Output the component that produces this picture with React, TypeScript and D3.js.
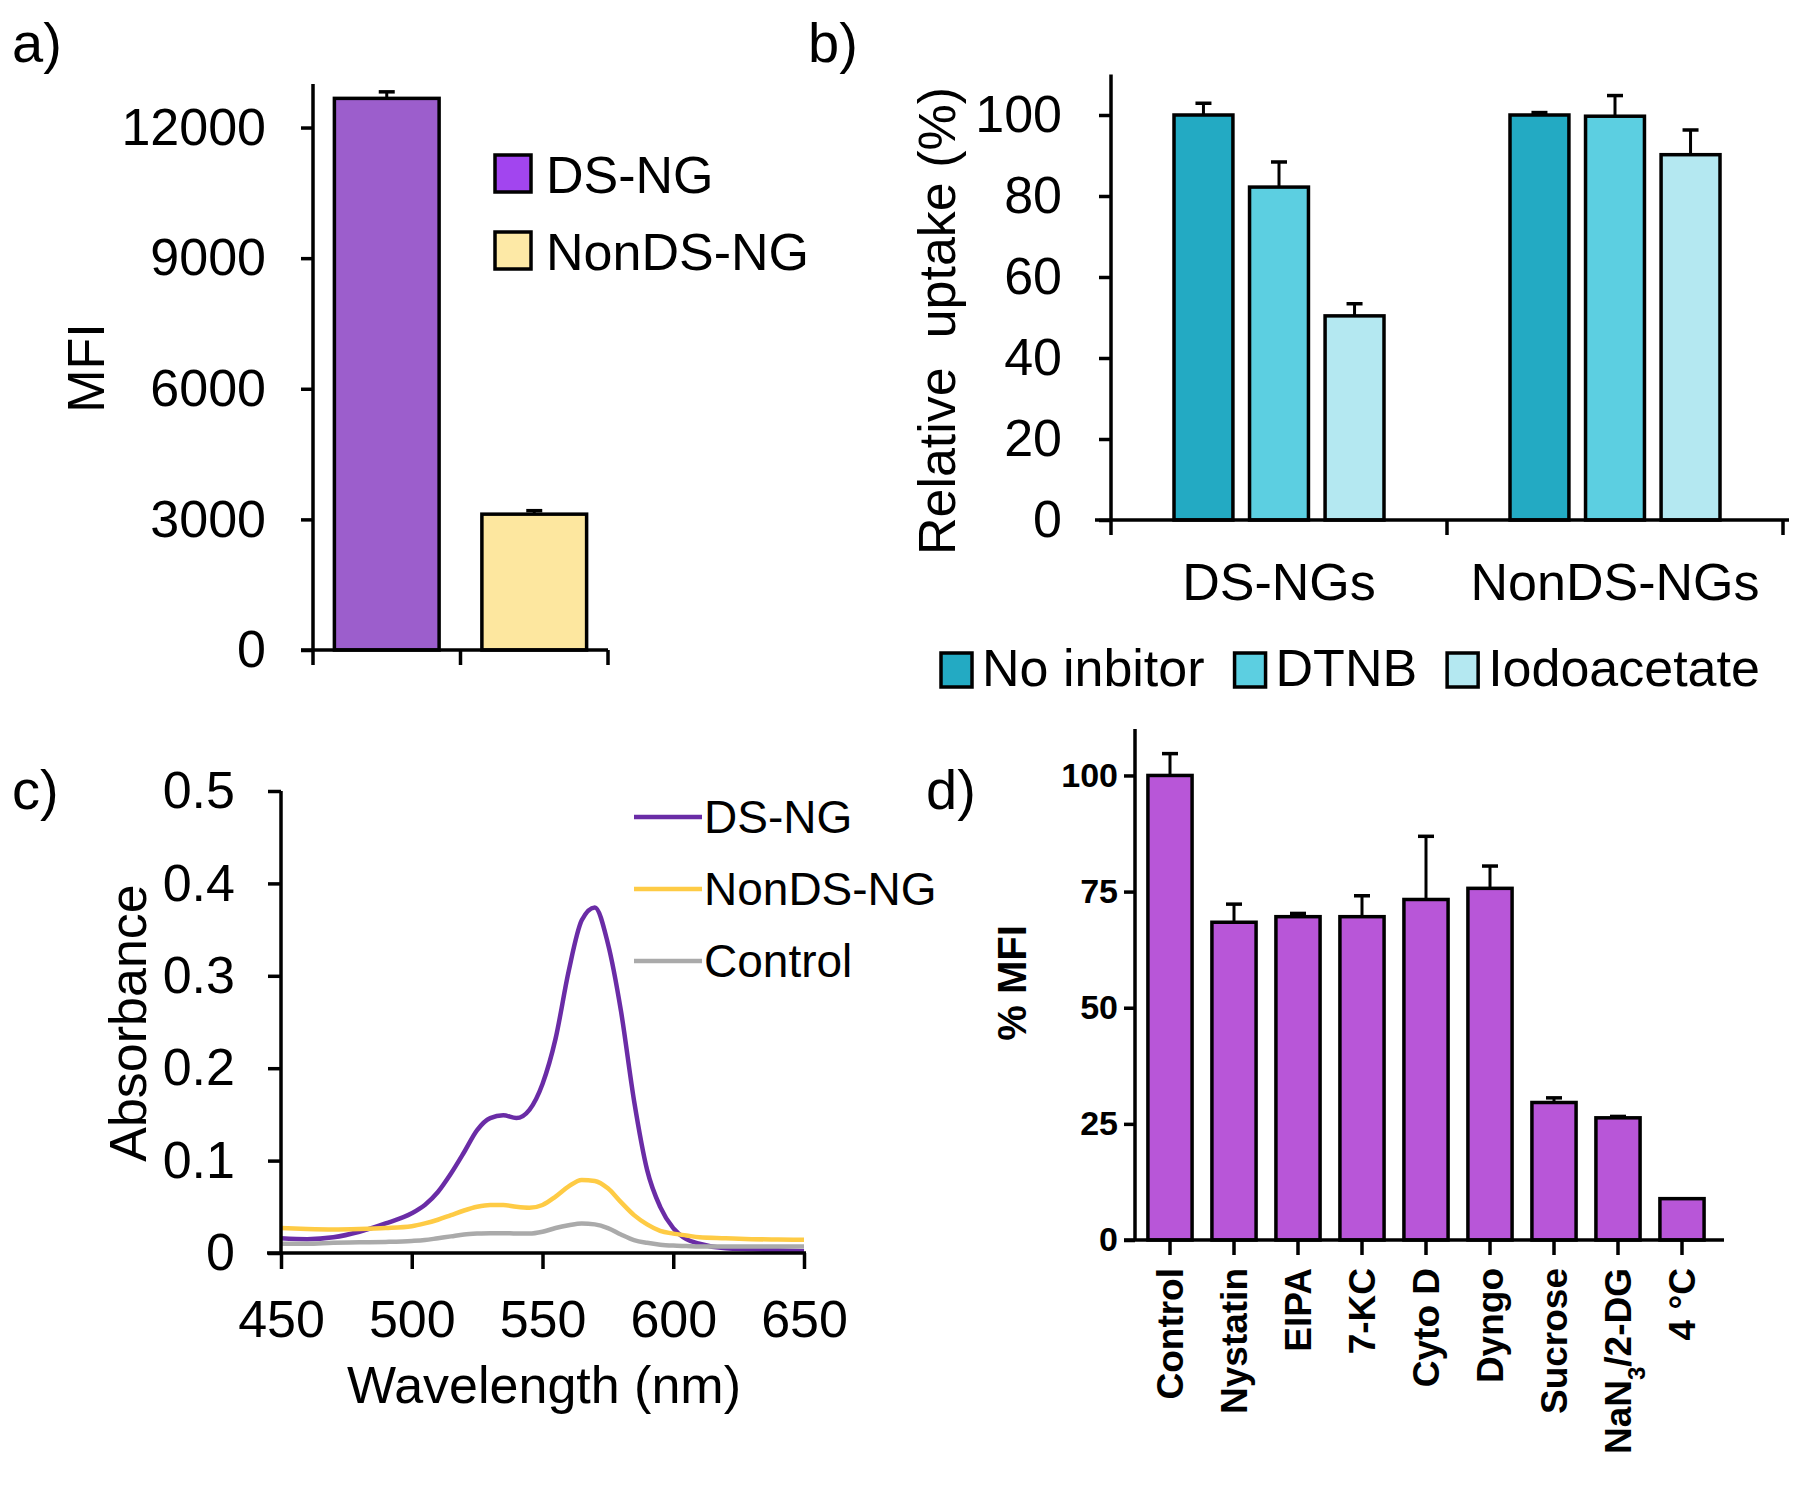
import React, { useEffect, useRef } from 'react';
import * as d3 from 'd3';

const FONT = 'Liberation Sans, Arial, sans-serif';

// a) MFI of the two nanogels
const mfiGroups = ['DS-NG', 'NonDS-NG'];
const mfiValues = [12670, 3120];
const mfiErrors = [150, 80];
const mfiTicks = [0, 3000, 6000, 9000, 12000];
const mfiBarColors = ['#9c5ecc', '#fde79f'];
const mfiLegendColors = ['#a245ef', '#fde9a6'];

// b) relative uptake with inhibitors
const uptakeGroups = ['DS-NGs', 'NonDS-NGs'];
const inhibitors = ['No inbitor', 'DTNB', 'Iodoacetate'];
const uptakeValues = [
    [100, 100],
    [82.2, 99.7],
    [50.4, 90.2],
];
const uptakeErrors = [
    [2.9, 0.6],
    [6.2, 5.1],
    [3.0, 6.1],
];
const uptakeTicks = [0, 20, 40, 60, 80, 100];
const inhibitorColors = ['#23aac3', '#5ccfe1', '#b4e8f1'];

// c) absorbance spectra
const wavelengths = [450, 460, 470, 480, 490, 500, 505, 510, 515, 520, 525, 530, 535, 540, 545, 550, 555, 560, 565, 570, 575, 580, 585, 590, 595, 600, 605, 610, 620, 630, 640, 650];
const dsAbs = [0.016, 0.015, 0.017, 0.023, 0.032, 0.043, 0.052, 0.066, 0.086, 0.109, 0.133, 0.146, 0.149, 0.146, 0.155, 0.183, 0.232, 0.305, 0.360, 0.374, 0.335, 0.262, 0.165, 0.090, 0.050, 0.027, 0.015, 0.010, 0.005, 0.004, 0.003, 0.002];
const nonDsAbs = [0.027, 0.026, 0.0255, 0.026, 0.027, 0.029, 0.032, 0.036, 0.041, 0.046, 0.050, 0.052, 0.052, 0.050, 0.049, 0.052, 0.061, 0.072, 0.079, 0.078, 0.070, 0.055, 0.041, 0.031, 0.024, 0.021, 0.019, 0.017, 0.016, 0.015, 0.0145, 0.0143];
const controlAbs = [0.010, 0.010, 0.011, 0.0115, 0.012, 0.013, 0.014, 0.016, 0.018, 0.020, 0.021, 0.0215, 0.0215, 0.021, 0.021, 0.023, 0.027, 0.030, 0.032, 0.031, 0.027, 0.020, 0.014, 0.011, 0.009, 0.008, 0.0075, 0.007, 0.007, 0.007, 0.007, 0.007];
const spectraNames = ['DS-NG', 'NonDS-NG', 'Control'];
const spectraColors = ['#6a2ca6', '#fecb45', '#aaaaaa'];
const wlTicks = [450, 500, 550, 600, 650];
const absTicks = [0, 0.1, 0.2, 0.3, 0.4, 0.5];

// d) % MFI with endocytosis inhibitors
const treatments = ['Control', 'Nystatin', 'EIPA', '7-KC', 'Cyto D', 'Dyngo', 'Sucrose', 'NaN3/2-DG', '4 °C'];
const pctMfi = [100, 68.4, 69.6, 69.6, 73.3, 75.7, 29.6, 26.3, 8.9];
const pctErrors = [4.7, 3.9, 0.7, 4.5, 13.6, 4.8, 1.0, 0.3, 0];
const pctTicks = [0, 25, 50, 75, 100];
const pctColor = '#b856d8';

const styleAxis = (g, fontSize, weight = 'normal') => {
    g.select('.domain').remove();
    g.selectAll('.tick line').attr('stroke', '#000').attr('stroke-width', 3.5);
    g.selectAll('.tick text')
        .attr('fill', '#000')
        .style('font-size', fontSize + 'px')
        .style('font-family', FONT)
        .style('font-weight', weight);
};

const errorBar = (g, cx, yBase, yTop, cap = 8) => {
    g.append('line').attr('x1', cx).attr('x2', cx).attr('y1', yBase).attr('y2', yTop)
        .attr('stroke', '#000').attr('stroke-width', 3);
    g.append('line').attr('x1', cx - cap).attr('x2', cx + cap).attr('y1', yTop).attr('y2', yTop)
        .attr('stroke', '#000').attr('stroke-width', 3.5);
};

const App = () => {
    const ref = useRef(null);

    useEffect(() => {
        document.body.style.margin = '0';
        const svg = d3.select(ref.current);
        svg.selectAll('*').remove();

        const label = (text, x, y, size = 52, weight = 'normal') =>
            svg.append('text').attr('x', x).attr('y', y).text(text)
                .style('font-size', size + 'px').style('font-weight', weight).attr('fill', '#000');

        // ---------- a) ----------
        const a = svg.append('g');
        const aX = d3.scaleBand().domain(mfiGroups).range([313, 608]);
        const aY = d3.scaleLinear().domain([0, 13000]).range([650, 84]);

        a.append('g').attr('transform', 'translate(313,0)')
            .call(d3.axisLeft(aY).tickValues(mfiTicks).tickSize(12).tickPadding(35).tickFormat(d3.format('d')))
            .call(g => styleAxis(g, 52));

        const aBw = aX.bandwidth() * 0.71;
        mfiGroups.forEach((d, i) => {
            const x0 = aX(d) + (aX.bandwidth() - aBw) / 2;
            errorBar(a, x0 + aBw / 2, aY(mfiValues[i]), aY(mfiValues[i] + mfiErrors[i]));
            a.append('rect').attr('x', x0).attr('y', aY(mfiValues[i]))
                .attr('width', aBw).attr('height', aY(0) - aY(mfiValues[i]))
                .attr('fill', mfiBarColors[i]).attr('stroke', '#000').attr('stroke-width', 3.5);
        });
        a.append('line').attr('x1', 313).attr('x2', 313).attr('y1', aY(0)).attr('y2', aY(13000))
            .attr('stroke', '#000').attr('stroke-width', 3.5);
        a.append('line').attr('x1', 301).attr('x2', aX.range()[1]).attr('y1', aY(0)).attr('y2', aY(0))
            .attr('stroke', '#000').attr('stroke-width', 3.5);
        [...mfiGroups.map(d => aX(d)), aX.range()[1]].forEach(x => {
            a.append('line').attr('x1', x).attr('x2', x).attr('y1', aY(0)).attr('y2', aY(0) + 15)
                .attr('stroke', '#000').attr('stroke-width', 3.5);
        });
        // legend
        mfiGroups.forEach((d, i) => {
            const y = 155 + i * 77;
            a.append('rect').attr('x', 495).attr('y', y).attr('width', 36).attr('height', 37)
                .attr('fill', mfiLegendColors[i]).attr('stroke', '#000').attr('stroke-width', 3.5);
            label(d, 546, y + 38);
        });
        label('MFI', 0, 0).attr('text-anchor', 'middle').attr('dy', '0.35em')
            .attr('transform', 'translate(86,368) rotate(-90)');
        label('a)', 12, 62, 56);

        // ---------- b) ----------
        const b = svg.append('g');
        const bX = d3.scaleBand().domain(uptakeGroups).range([1111, 1783]);
        const bSub = d3.scaleBand().domain(inhibitors).range([0, 210]).paddingInner(0.22);
        const bY = d3.scaleLinear().domain([0, 110]).range([520, 74.5]);

        b.append('g').attr('transform', 'translate(1111,0)')
            .call(d3.axisLeft(bY).tickValues(uptakeTicks).tickSize(12).tickPadding(37))
            .call(g => styleAxis(g, 52));

        uptakeGroups.forEach((grp, gi) => {
            const left = bX(grp) + (bX.bandwidth() - 210) / 2;
            inhibitors.forEach((inh, si) => {
                const v = uptakeValues[si][gi];
                const x0 = left + bSub(inh);
                errorBar(b, x0 + bSub.bandwidth() / 2, bY(v), bY(v + uptakeErrors[si][gi]));
                b.append('rect').attr('x', x0).attr('y', bY(v))
                    .attr('width', bSub.bandwidth()).attr('height', bY(0) - bY(v))
                    .attr('fill', inhibitorColors[si]).attr('stroke', '#000').attr('stroke-width', 3.5);
            });
            label(grp, bX(grp) + bX.bandwidth() / 2, 600).attr('text-anchor', 'middle');
        });
        b.append('line').attr('x1', 1111).attr('x2', 1111).attr('y1', bY(0)).attr('y2', bY(110))
            .attr('stroke', '#000').attr('stroke-width', 3.5);
        b.append('line').attr('x1', 1095).attr('x2', 1789).attr('y1', bY(0)).attr('y2', bY(0))
            .attr('stroke', '#000').attr('stroke-width', 3.5);
        [...uptakeGroups.map(d => bX(d)), bX.range()[1]].forEach(x => {
            b.append('line').attr('x1', x).attr('x2', x).attr('y1', bY(0)).attr('y2', bY(0) + 15)
                .attr('stroke', '#000').attr('stroke-width', 3.5);
        });
        // legend
        let lx = 941;
        inhibitors.forEach((d, i) => {
            b.append('rect').attr('x', lx).attr('y', 653).attr('width', 31).attr('height', 34)
                .attr('fill', inhibitorColors[i]).attr('stroke', '#000').attr('stroke-width', 3.5);
            const t = label(d, lx + 41, 686);
            lx += 41 + t.node().getComputedTextLength() + 30;
        });
        label('Relative  uptake (%)', 0, 0).attr('text-anchor', 'middle').attr('dy', '0.35em')
            .style('white-space', 'pre')
            .attr('transform', 'translate(937,321) rotate(-90)');
        label('b)', 808, 62, 56);

        // ---------- c) ----------
        const c = svg.append('g');
        const cX = d3.scaleLinear().domain([450, 650]).range([281, 804]);
        const cY = d3.scaleLinear().domain([0, 0.5]).range([1253, 791]);

        c.append('g').attr('transform', 'translate(281,0)')
            .call(d3.axisLeft(cY).tickValues(absTicks).tickSize(13).tickPadding(33).tickFormat(d => d === 0 ? '0' : d3.format('.1f')(d)))
            .call(g => styleAxis(g, 52));
        c.append('g').attr('transform', 'translate(0,1253)')
            .call(d3.axisBottom(cX).tickValues(wlTicks).tickSize(16).tickPadding(31))
            .call(g => styleAxis(g, 52));

        const series = [dsAbs, nonDsAbs, controlAbs];
        const line = d3.line().curve(d3.curveMonotoneX);
        series.forEach((vals, i) => {
            c.append('path')
                .attr('d', line(wavelengths.map((w, k) => [cX(w), cY(vals[k])])))
                .attr('fill', 'none').attr('stroke', spectraColors[i]).attr('stroke-width', 4.5)
                .attr('stroke-linejoin', 'round');
        });
        c.append('line').attr('x1', 281).attr('x2', 281).attr('y1', cY(0)).attr('y2', cY(0.5))
            .attr('stroke', '#000').attr('stroke-width', 3.5);
        c.append('line').attr('x1', 267).attr('x2', 806).attr('y1', cY(0)).attr('y2', cY(0))
            .attr('stroke', '#000').attr('stroke-width', 3.5);
        spectraNames.forEach((d, i) => {
            const y = 817 + i * 72;
            c.append('line').attr('x1', 634).attr('x2', 702).attr('y1', y).attr('y2', y)
                .attr('stroke', spectraColors[i]).attr('stroke-width', 4.5);
            label(d, 704, y, 46).attr('dy', '0.35em');
        });
        label('Absorbance', 0, 0).attr('text-anchor', 'middle').attr('dy', '0.35em')
            .attr('transform', 'translate(128,1023) rotate(-90)');
        label('Wavelength (nm)', 544, 1403).attr('text-anchor', 'middle');
        label('c)', 12, 809, 56);

        // ---------- d) ----------
        const dG = svg.append('g');
        const dX = d3.scaleBand().domain(treatments).range([1138, 1714]).paddingInner(0.31).paddingOuter(0.155);
        const dY = d3.scaleLinear().domain([0, 110]).range([1240, 729]);

        dG.append('g').attr('transform', 'translate(1135,0)')
            .call(d3.axisLeft(dY).tickValues(pctTicks).tickSize(11).tickPadding(6))
            .call(g => styleAxis(g, 34, 'bold'));

        treatments.forEach((d, i) => {
            const x0 = dX(d);
            const cx = x0 + dX.bandwidth() / 2;
            if (pctErrors[i] > 0) errorBar(dG, cx, dY(pctMfi[i]), dY(pctMfi[i] + pctErrors[i]));
            dG.append('rect').attr('x', x0).attr('y', dY(pctMfi[i]))
                .attr('width', dX.bandwidth()).attr('height', dY(0) - dY(pctMfi[i]))
                .attr('fill', pctColor).attr('stroke', '#000').attr('stroke-width', 3.5);
            dG.append('line').attr('x1', cx).attr('x2', cx).attr('y1', dY(0)).attr('y2', dY(0) + 15)
                .attr('stroke', '#000').attr('stroke-width', 3.5);
            const t = dG.append('text').attr('text-anchor', 'end').attr('dy', '0.36em')
                .attr('transform', `translate(${cx},1268) rotate(-90)`)
                .style('font-size', '37px').style('font-weight', 'bold').attr('fill', '#000');
            const m = d.match(/^(NaN)(3)(.*)$/);
            if (m) {
                t.append('tspan').text(m[1]);
                t.append('tspan').text(m[2]).attr('baseline-shift', 'sub').style('font-size', '24px');
                t.append('tspan').text(m[3]);
            } else {
                t.text(d);
            }
        });
        dG.append('line').attr('x1', 1135).attr('x2', 1135).attr('y1', dY(0)).attr('y2', dY(110))
            .attr('stroke', '#000').attr('stroke-width', 3.5);
        dG.append('line').attr('x1', 1124).attr('x2', 1724).attr('y1', dY(0)).attr('y2', dY(0))
            .attr('stroke', '#000').attr('stroke-width', 3.5);
        label('% MFI', 0, 0, 40, 'bold').attr('text-anchor', 'middle').attr('dy', '0.35em')
            .attr('transform', 'translate(1012,983) rotate(-90)');
        label('d)', 926, 809, 56);
    }, []);

    return (
        <svg ref={ref} width={1800} height={1497}
            style={{ display: 'block', background: '#fff', fontFamily: FONT }} />
    );
};

export default App;
